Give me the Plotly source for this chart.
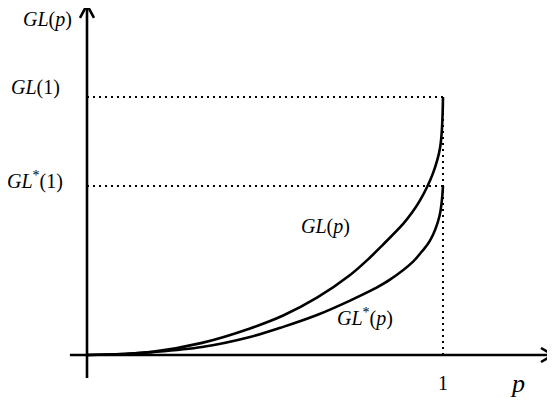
import plotly.graph_objects as go

# Data
p = [0.0, 0.10, 0.183, 0.323, 0.458, 0.551, 0.646, 0.739, 0.795, 0.831, 0.888, 0.912, 0.935, 0.972, 0.992, 1.0]
gl = [0.0, 0.004, 0.012, 0.047, 0.103, 0.153, 0.222, 0.310, 0.378, 0.427, 0.508, 0.550, 0.598, 0.705, 0.805, 1.0]
p_star = [0.0, 0.10, 0.183, 0.323, 0.458, 0.551, 0.646, 0.739, 0.809, 0.851, 0.916, 0.940, 0.963, 0.990, 1.0]
gl_star = [0.0, 0.004, 0.011, 0.031, 0.070, 0.109, 0.155, 0.211, 0.258, 0.292, 0.362, 0.400, 0.442, 0.538, 0.655]

gl1 = gl[-1]
gl1_star = gl_star[-1]

serif = "Liberation Serif"
fs = 20

fig = go.Figure()
for xs, ys in [(p, gl), (p_star, gl_star)]:
    fig.add_trace(go.Scatter(x=xs, y=ys, mode="lines",
                             line=dict(color="black", width=2.6, shape="spline", smoothing=1.0),
                             hoverinfo="skip", showlegend=False))

dotline = dict(color="black", width=2, dash="2px,4px")
# reference lines
fig.add_shape(type="line", x0=0, x1=1, y0=gl1, y1=gl1, line=dotline, layer="below")
fig.add_shape(type="line", x0=0, x1=1, y0=gl1_star, y1=gl1_star, line=dotline, layer="below")
fig.add_shape(type="line", x0=1, x1=1, y0=0, y1=gl1, line=dotline, layer="below")

# axes
xa0, xa1 = -0.048, 1.309
ya0, ya1 = -0.089, 1.357
axline = dict(color="black", width=2.6)
fig.add_shape(type="line", x0=xa0, x1=xa1, y0=0, y1=0, line=axline)
fig.add_shape(type="line", x0=0, x1=0, y0=ya0, y1=ya1, line=axline)
# open arrow heads
sx = 1 / 356.0
sy = 1 / 258.0
fig.add_shape(type="path", path=f"M {xa1-12*sx},{7*sy} L {xa1},{0} L {xa1-12*sx},{-7*sy}", line=axline)
fig.add_shape(type="path", path=f"M {-7*sx},{ya1-13*sy} L {0},{ya1} L {7*sx},{ya1-13*sy}", line=axline)

ann = [
    dict(x=-0.112, y=1.30, text="<i>GL</i>(<i>p</i>)"),
    dict(x=-0.146, y=gl1 + 0.037, text="<i>GL</i>(1)"),
    dict(x=-0.146, y=gl1_star + 0.02, text="<i>GL</i><sup>*</sup>(1)"),
    dict(x=0.67, y=0.50, text="<i>GL</i>(<i>p</i>)"),
    dict(x=0.78, y=0.145, text="<i>GL</i><sup>*</sup>(<i>p</i>)"),
    dict(x=1.0, y=-0.11, text="1"),
]
for a in ann:
    fig.add_annotation(showarrow=False, xanchor="center", yanchor="middle",
                       font=dict(family=serif, size=fs, color="black"), **a)
fig.add_annotation(x=1.208, y=-0.11, text="<i>p</i>", showarrow=False, xanchor="center", yanchor="middle",
                   font=dict(family=serif, size=26, color="black"))

# page has an 8px body offset; place origin at (87, 355) in the window
ox, oy = 87 - 8, 355 - 8
W, H = 555, 402
fig.update_layout(
    width=W, height=H, margin=dict(l=0, r=0, t=0, b=0),
    paper_bgcolor="white", plot_bgcolor="white",
    xaxis=dict(range=[-ox / 356, (W - ox) / 356], visible=False, fixedrange=True),
    yaxis=dict(range=[-(H - oy) / 258, oy / 258], visible=False, fixedrange=True),
)
fig.write_html("out.html")
